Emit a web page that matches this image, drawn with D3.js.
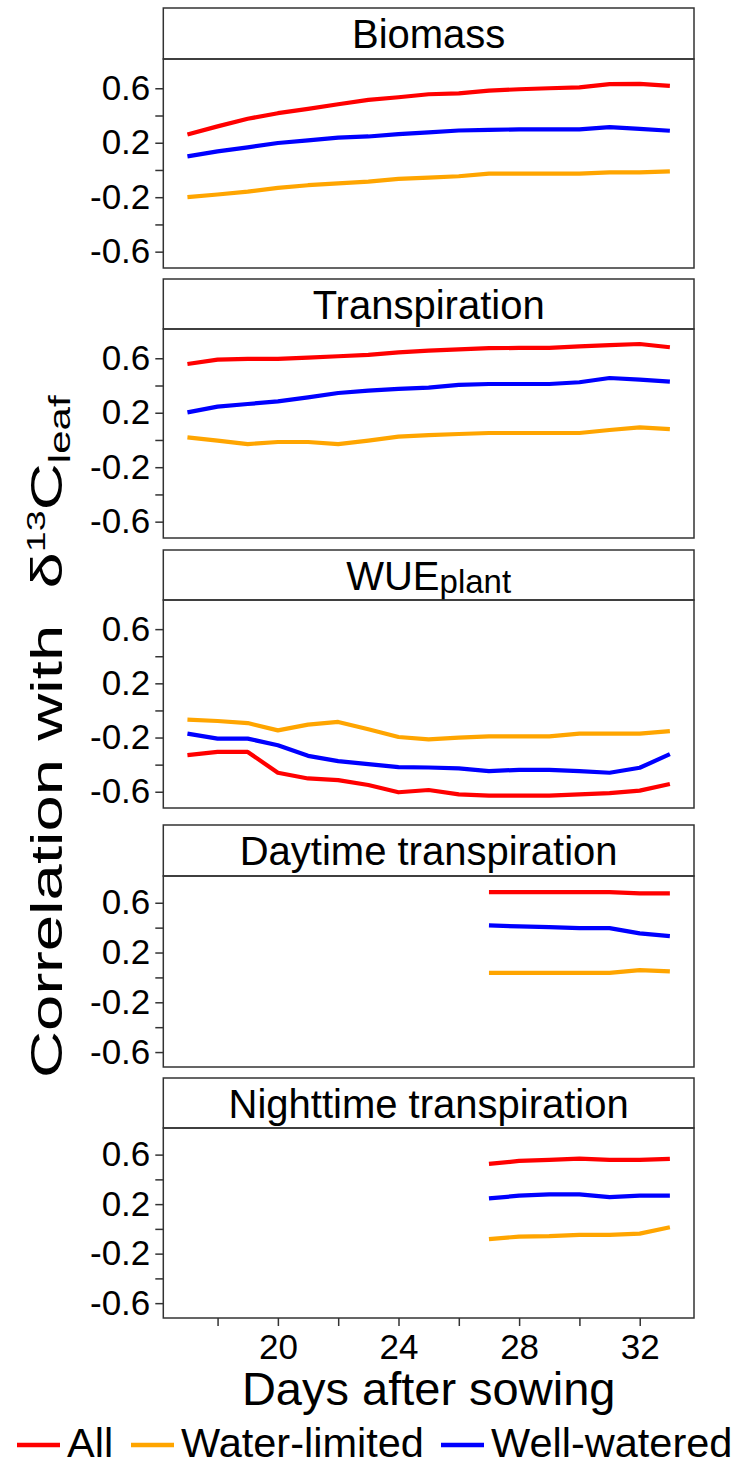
<!DOCTYPE html>
<html>
<head>
<meta charset="utf-8">
<script src="https://cdn.jsdelivr.net/npm/d3@7"></script>
<style>
  body { margin: 0; background: #fff; }
  text { font-family: "Liberation Sans", Arial, sans-serif; fill: #000; }
</style>
</head>
<body>
<div id="chart"></div>
<script>
// days of measurement
var days     = [17, 18, 19, 20, 21, 22, 23, 24, 25, 26, 27, 28, 29, 30, 31, 32, 33];
var daysLate = [27, 28, 29, 30, 31, 32, 33];

var seriesNames  = ["All", "Water-limited", "Well-watered"];
var seriesColors = ["#ff0000", "#ffa500", "#0000ff"];

// Biomass
var biomassAll = [0.26, 0.32, 0.376, 0.417, 0.449, 0.483, 0.515, 0.534, 0.556, 0.563, 0.583, 0.593, 0.60, 0.607, 0.63, 0.632, 0.617];
var biomassWL  = [-0.20, -0.18, -0.159, -0.132, -0.112, -0.098, -0.085, -0.066, -0.056, -0.046, -0.027, -0.027, -0.027, -0.027, -0.017, -0.017, -0.01];
var biomassWW  = [0.10, 0.137, 0.166, 0.198, 0.217, 0.237, 0.246, 0.263, 0.276, 0.29, 0.295, 0.298, 0.298, 0.298, 0.315, 0.302, 0.288];

// Transpiration
var transpAll = [0.558, 0.59, 0.595, 0.595, 0.605, 0.615, 0.625, 0.644, 0.656, 0.666, 0.674, 0.676, 0.676, 0.688, 0.696, 0.705, 0.681];
var transpWL  = [0.019, -0.005, -0.03, -0.015, -0.015, -0.03, -0.005, 0.024, 0.036, 0.044, 0.051, 0.051, 0.051, 0.051, 0.073, 0.093, 0.08];
var transpWW  = [0.203, 0.245, 0.264, 0.284, 0.313, 0.345, 0.362, 0.375, 0.384, 0.404, 0.411, 0.411, 0.411, 0.424, 0.455, 0.443, 0.428];

// WUE plant
var wueAll = [-0.33, -0.306, -0.306, -0.46, -0.502, -0.514, -0.55, -0.604, -0.587, -0.619, -0.629, -0.629, -0.629, -0.619, -0.61, -0.592, -0.543];
var wueWL  = [-0.068, -0.078, -0.093, -0.147, -0.105, -0.085, -0.139, -0.196, -0.213, -0.20, -0.191, -0.191, -0.191, -0.171, -0.171, -0.171, -0.152];
var wueWW  = [-0.171, -0.208, -0.208, -0.257, -0.335, -0.374, -0.396, -0.418, -0.421, -0.428, -0.448, -0.438, -0.438, -0.448, -0.46, -0.423, -0.323];

// Daytime transpiration
var dayAll = [0.686, 0.686, 0.686, 0.686, 0.686, 0.675, 0.675];
var dayWL  = [0.037, 0.037, 0.037, 0.037, 0.037, 0.059, 0.048];
var dayWW  = [0.418, 0.41, 0.404, 0.396, 0.396, 0.354, 0.332];

// Nighttime transpiration
var nightAll = [0.525, 0.549, 0.557, 0.568, 0.557, 0.557, 0.565];
var nightWL  = [-0.083, -0.062, -0.059, -0.048, -0.048, -0.038, 0.013];
var nightWW  = [0.246, 0.268, 0.279, 0.279, 0.257, 0.268, 0.268];

var yTicks   = [0.6, 0.4, 0.2, 0, -0.2, -0.4, -0.6];
var yLabeled = [0.6, 0.2, -0.2, -0.6];
var xTicks   = [18, 20, 22, 24, 26, 28, 30, 32];
var xLabeled = [20, 24, 28, 32];

// panels: title, x values, series, and vertical layout (strip top, strip bottom, plot bottom)
var panels = [
  { title: "Biomass",                  x: days,     ys: [biomassAll, biomassWL, biomassWW], top: 8,    mid: 59,   bot: 268 },
  { title: "Transpiration",            x: days,     ys: [transpAll, transpWL, transpWW],    top: 279,  mid: 329,  bot: 538 },
  { title: "WUE",  sub: "plant",       x: days,     ys: [wueAll, wueWL, wueWW],             top: 550,  mid: 600,  bot: 808 },
  { title: "Daytime transpiration",    x: daysLate, ys: [dayAll, dayWL, dayWW],             top: 825,  mid: 876,  bot: 1067 },
  { title: "Nighttime transpiration",  x: daysLate, ys: [nightAll, nightWL, nightWW],       top: 1078, mid: 1128, bot: 1318 }
];

var width = 735, height = 1466;
var left = 163.3, right = 694;
var frame = "#333";

var svg = d3.select("#chart").append("svg")
  .attr("width", width)
  .attr("height", height);

var x = d3.scaleLinear().domain([16.2, 33.8]).range([left, right]);

function fmt(d) {
  if (yLabeled.indexOf(d) < 0) return "";
  return (d < 0 ? "-" : "") + Math.abs(d).toFixed(1);
}

panels.forEach(function(p, i) {
  var y = d3.scaleLinear().domain([-0.72, 0.815]).range([p.bot, p.mid]);
  var g = svg.append("g");

  // strip
  g.append("rect")
    .attr("x", left).attr("y", p.top)
    .attr("width", right - left).attr("height", p.mid - p.top)
    .attr("fill", "#fff").attr("stroke", frame).attr("stroke-width", 1.5);

  var t = g.append("text")
    .attr("x", (left + right) / 2)
    .attr("y", (p.top + p.mid) / 2 + 14.5)
    .attr("text-anchor", "middle")
    .style("font-size", "40px")
    .text(p.title);
  if (p.sub) {
    t.append("tspan").attr("dy", 3).style("font-size", "33px").text(p.sub);
  }

  // clip so lines stay inside
  g.append("clipPath").attr("id", "clip" + i)
    .append("rect")
    .attr("x", left).attr("y", p.mid)
    .attr("width", right - left).attr("height", p.bot - p.mid);

  var line = d3.line()
    .x(function(d) { return x(d[0]); })
    .y(function(d) { return y(d[1]); });

  p.ys.forEach(function(vals, k) {
    g.append("path")
      .datum(p.x.map(function(d, j) { return [d, vals[j]]; }))
      .attr("clip-path", "url(#clip" + i + ")")
      .attr("fill", "none")
      .attr("stroke", seriesColors[k])
      .attr("stroke-width", 4.2)
      .attr("stroke-linejoin", "round")
      .attr("d", line);
  });

  // panel border
  g.append("rect")
    .attr("x", left).attr("y", p.mid)
    .attr("width", right - left).attr("height", p.bot - p.mid)
    .attr("fill", "none").attr("stroke", frame).attr("stroke-width", 1.5);

  // y axis
  var ya = g.append("g")
    .attr("transform", "translate(" + left + ",0)")
    .call(d3.axisLeft(y).tickValues(yTicks).tickSize(8).tickPadding(5).tickFormat(fmt));
  ya.select(".domain").remove();
  ya.selectAll("line").attr("stroke", frame).attr("stroke-width", 1.5);
  ya.selectAll("text")
    .style("font-size", "35px")
    .style("font-family", "'Liberation Sans', Arial, sans-serif")
    .attr("fill", "#000");

  // x axis only on the last panel
  if (i === panels.length - 1) {
    var xa = g.append("g")
      .attr("transform", "translate(0," + p.bot + ")")
      .call(d3.axisBottom(x).tickValues(xTicks).tickSize(8).tickPadding(8)
        .tickFormat(function(d) { return xLabeled.indexOf(d) >= 0 ? d : ""; }));
    xa.select(".domain").remove();
    xa.selectAll("line").attr("stroke", frame).attr("stroke-width", 1.5);
    xa.selectAll("text")
      .style("font-size", "35px")
      .style("font-family", "'Liberation Sans', Arial, sans-serif")
      .attr("fill", "#000");
  }
});

// x axis title
svg.append("text")
  .attr("x", (left + right) / 2)
  .attr("y", 1405)
  .attr("text-anchor", "middle")
  .style("font-size", "47px")
  .text("Days after sowing");

// y axis title (stretched along its length, like the original)
var yt = svg.append("text")
  .attr("transform", "translate(62,1078) rotate(-90) scale(1.45,1)")
  .attr("text-anchor", "start")
  .style("font-size", "45px");
yt.append("tspan").text("Correlation with");
yt.append("tspan").attr("dx", 25).text("\u03b4");
yt.append("tspan").attr("dy", -17).style("font-size", "26px").text("13");
yt.append("tspan").attr("dy", 17).text("C");
yt.append("tspan").attr("dy", 8).style("font-size", "29px").text("leaf");

// legend
var legendX = [17, 131, 441];
var legend = svg.append("g");
seriesNames.forEach(function(name, k) {
  legend.append("line")
    .attr("x1", legendX[k]).attr("x2", legendX[k] + 43)
    .attr("y1", 1445).attr("y2", 1445)
    .attr("stroke", seriesColors[k])
    .attr("stroke-width", 4.5);
  legend.append("text")
    .attr("x", legendX[k] + 50)
    .attr("y", 1457)
    .style("font-size", "41.5px")
    .text(name);
});
</script>
</body>
</html>
